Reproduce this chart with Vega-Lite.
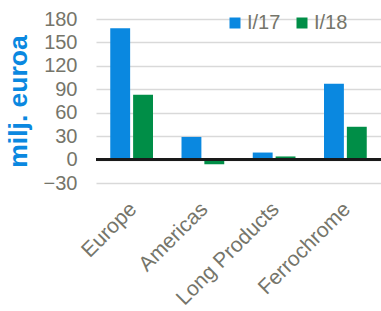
{
  "$schema": "https://vega.github.io/schema/vega-lite/v6.json",
  "width": 285,
  "height": 164,
  "autosize": {"type": "none"},
  "padding": {"left": 96, "top": 19, "right": 0, "bottom": 128},
  "background": "white",
  "config": {
    "view": {"stroke": null},
    "font": "Liberation Sans",
    "axisY": {
      "labelFontSize": 20,
      "labelColor": "#75756A",
      "labelPadding": 19,
      "labelOverlap": false,
      "labelBound": false,
      "ticks": false,
      "tickSize": 0,
      "domain": false,
      "grid": true,
      "gridColor": "#D9D9D9",
      "gridWidth": 1.5
    },
    "axisX": {
      "labelAngle": -45,
      "labelFontSize": 21,
      "labelColor": "#75756A",
      "labelPadding": 15,
      "labelOffset": -6,
      "labelOverlap": false,
      "labelBound": false,
      "ticks": false,
      "tickSize": 0,
      "domain": false,
      "grid": false
    }
  },
  "data": {
    "values": [
      {"category": "Europe", "series": "I/17", "value": 168},
      {"category": "Europe", "series": "I/18", "value": 83},
      {"category": "Americas", "series": "I/17", "value": 29},
      {"category": "Americas", "series": "I/18", "value": -6},
      {"category": "Long Products", "series": "I/17", "value": 9},
      {"category": "Long Products", "series": "I/18", "value": 4},
      {"category": "Ferrochrome", "series": "I/17", "value": 97},
      {"category": "Ferrochrome", "series": "I/18", "value": 42}
    ]
  },
  "layer": [
    {
      "mark": {"type": "bar"},
      "encoding": {
        "x": {
          "field": "category",
          "type": "nominal",
          "sort": ["Europe", "Americas", "Long Products", "Ferrochrome"],
          "scale": {"paddingInner": 0.4, "paddingOuter": 0.2},
          "axis": {"title": null, "labelAngle": -45}
        },
        "xOffset": {
          "field": "series",
          "type": "nominal",
          "scale": {"paddingInner": 0.13}
        },
        "y": {
          "field": "value",
          "type": "quantitative",
          "scale": {"domain": [-30, 180], "nice": false, "zero": false},
          "axis": {
            "title": "milj. euroa",
            "titleColor": "#0A88E0",
            "titleFontSize": 26.5,
            "titleFontWeight": "bold",
            "titlePadding": 11,
            "values": [-30, 0, 30, 60, 90, 120, 150, 180],
            "labelOverlap": false
          }
        },
        "color": {
          "field": "series",
          "type": "nominal",
          "scale": {"domain": ["I/17", "I/18"], "range": ["#0A88E0", "#008E47"]},
          "legend": {
            "title": null,
            "orient": "none",
            "direction": "horizontal",
            "legendX": 129,
            "legendY": -6,
            "symbolType": "square",
            "symbolSize": 121,
            "symbolStrokeWidth": 0,
            "labelFontSize": 20,
            "labelColor": "#75756A",
            "columnPadding": 11,
            "labelOffset": 2
          }
        }
      }
    },
    {
      "mark": {"type": "rule", "color": "#1A1A1A", "strokeWidth": 2},
      "encoding": {
        "y": {
          "datum": 0,
          "type": "quantitative",
          "axis": {
            "title": "milj. euroa",
            "titleColor": "#0A88E0",
            "titleFontSize": 26.5,
            "titleFontWeight": "bold",
            "titlePadding": 11,
            "values": [-30, 0, 30, 60, 90, 120, 150, 180],
            "labelOverlap": false
          }
        }
      }
    }
  ]
}
